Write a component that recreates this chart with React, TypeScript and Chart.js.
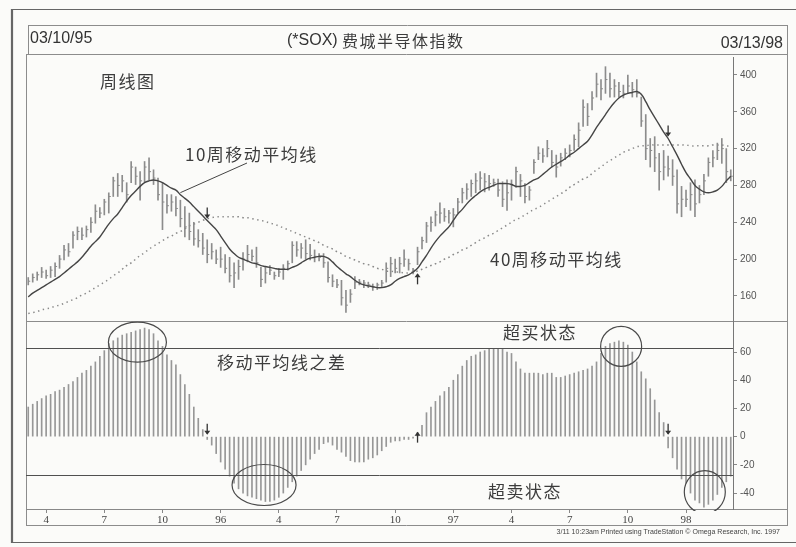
import React, { useEffect, useRef } from 'react';
import { Chart, registerables } from 'chart.js';

Chart.register(...registerables);

// ---------------- data (weekly, 03/10/95 .. 03/13/98) ----------------
const startDate = '03/10/95';
const endDate = '03/13/98';
const titleCode = '(*SOX) ';
const titleName = '费城半导体指数';

const high = [
  180, 184, 186, 191, 188, 192, 196, 204, 215, 217,
  230, 235, 234, 236, 245, 259, 256, 265, 272, 289,
  293, 291, 283, 306, 300, 295, 306, 310, 297, 288,
  283, 270, 270, 268, 264, 257, 250, 240, 232, 228,
  221, 217, 210, 213, 205, 202, 196, 199, 207, 215,
  210, 213, 191, 191, 193, 186, 190, 194, 198, 219,
  219, 217, 221, 216, 210, 206, 206, 197, 183, 178,
  177, 166, 167, 181, 178, 177, 175, 173, 174, 177,
  196, 202, 200, 202, 210, 200, 190, 213, 224, 240,
  246, 252, 261, 255, 253, 255, 266, 277, 282, 286,
  293, 295, 293, 291, 287, 287, 284, 286, 286, 300,
  292, 282, 279, 308, 322, 320, 329, 318, 313, 315,
  320, 324, 335, 348, 373, 369, 382, 402, 395, 409,
  402, 395, 392, 389, 400, 392, 395, 376, 357, 331,
  333, 315, 318, 312, 308, 297, 279, 275, 283, 286,
  280, 292, 310, 318, 326, 331, 320, 297,
];

const low = [
  172, 175, 177, 180, 179, 180, 181, 190, 199, 203,
  212, 221, 221, 224, 229, 239, 245, 248, 250, 268,
  268, 273, 262, 283, 281, 264, 284, 286, 281, 264,
  232, 250, 252, 247, 235, 224, 221, 215, 213, 205,
  196, 200, 195, 191, 185, 175, 169, 178, 188, 197,
  198, 191, 170, 174, 183, 178, 181, 178, 188, 196,
  203, 201, 200, 199, 197, 198, 191, 175, 170, 169,
  150, 142, 153, 168, 172, 169, 169, 166, 167, 170,
  175, 181, 185, 185, 192, 188, 184, 194, 211, 218,
  230, 236, 239, 241, 239, 235, 250, 261, 265, 268,
  272, 275, 273, 275, 279, 268, 257, 253, 264, 278,
  268, 261, 264, 293, 308, 305, 311, 300, 289, 301,
  308, 311, 318, 322, 344, 345, 362, 376, 373, 380,
  376, 376, 376, 375, 380, 376, 376, 344, 308, 300,
  295, 275, 286, 290, 280, 250, 246, 257, 253, 246,
  261, 270, 290, 300, 308, 304, 283, 285,
];

const close = [
  176, 180, 183, 186, 182, 188, 192, 200, 210, 208,
  226, 230, 226, 232, 240, 252, 250, 262, 268, 285,
  280, 285, 270, 300, 290, 285, 300, 295, 288, 270,
  262, 258, 262, 255, 244, 235, 230, 222, 220, 212,
  205, 208, 200, 200, 190, 182, 185, 192, 200, 205,
  203, 196, 178, 185, 188, 182, 186, 190, 195, 215,
  210, 212, 206, 204, 203, 202, 196, 180, 176, 172,
  158, 150, 162, 175, 175, 174, 172, 170, 172, 174,
  190, 195, 190, 195, 200, 195, 188, 208, 220, 236,
  240, 248, 250, 246, 250, 248, 262, 272, 276, 282,
  285, 288, 284, 282, 283, 275, 265, 272, 280, 295,
  285, 268, 275, 305, 315, 312, 320, 305, 300, 310,
  315, 318, 330, 340, 365, 355, 375, 390, 385, 395,
  385, 388, 382, 380, 388, 384, 380, 350, 320, 318,
  310, 295, 300, 298, 290, 260, 265, 265, 270, 260,
  270, 285, 305, 310, 318, 320, 295, 290,
];

const ma10 = [
  159, 163, 166, 169, 172, 175, 178, 181, 185, 189,
  193, 197, 202, 208, 214, 219, 224, 231, 238, 244,
  249, 256, 263, 269, 274, 279, 283, 285, 286, 285,
  283, 280, 277, 275, 270, 266, 262, 257, 252, 247,
  242, 237, 232, 225, 218, 211, 206, 202, 200, 198,
  196, 195, 193, 192, 191, 190, 189, 189, 189, 191,
  193, 196, 199, 201, 202, 203, 203, 201, 197, 192,
  188, 184, 181, 177, 174, 172, 171, 170, 169, 169,
  170, 172, 176, 179, 181, 183, 186, 190, 197, 204,
  212, 219, 225, 230, 235, 242, 249, 254, 260, 265,
  269, 273, 276, 278, 280, 282, 282, 282, 281, 279,
  279, 280, 283, 286, 288, 292, 296, 300, 303, 306,
  309, 313, 316, 320, 324, 328, 335, 343, 350, 357,
  364, 370, 375, 378, 380, 381, 382, 379, 371, 362,
  354, 346, 338, 331, 322, 313, 303, 294, 287, 280,
  276, 273, 272, 273, 275, 279, 285, 290,
];

const ma40 = [
  141, 142, 143, 145, 146, 147, 149, 150, 152, 154,
  156, 158, 161, 163, 166, 169, 172, 175, 178, 182,
  185, 189, 193, 196, 200, 204, 207, 211, 214, 217,
  220, 223, 225, 228, 230, 233, 236, 238, 240, 242,
  244, 245, 246, 246, 246, 246, 246, 246, 245, 245,
  244, 243, 242, 241, 239, 238, 236, 234, 232, 230,
  228, 226, 224, 222, 220, 218, 215, 213, 211, 208,
  206, 203, 201, 199, 197, 195, 194, 192, 190, 189,
  187, 187, 186, 186, 185, 185, 186, 187, 189, 191,
  193, 195, 197, 200, 202, 205, 207, 210, 212, 215,
  218, 221, 223, 226, 228, 231, 234, 237, 240, 243,
  245, 248, 251, 254, 256, 259, 262, 265, 268, 271,
  274, 278, 281, 284, 287, 289, 293, 297, 300, 304,
  307, 310, 313, 316, 318, 320, 322, 323, 323, 324,
  324, 324, 324, 324, 324, 324, 324, 324, 323, 323,
  323, 323, 323, 324, 324, 324, 323, 323,
];

const maDiff = [
  21, 23, 25, 27, 29, 30, 32, 33, 35, 37,
  39, 42, 45, 47, 50, 53, 57, 61, 66, 68,
  70, 72, 73, 74, 75, 76, 77, 76, 73, 68,
  64, 58, 54, 51, 44, 37, 30, 21, 13, 5,
  -2, -6, -12, -18, -23, -28, -33, -37, -40, -42,
  -43, -44, -45, -46, -46, -45, -43, -40, -36, -32,
  -28, -24, -20, -16, -12, -9, -5, -4, -6, -9,
  -11, -14, -17, -18, -18, -18, -16, -15, -13, -10,
  -7, -4, -3, -3, -2, -2, -1, 3, 8, 17,
  21, 25, 29, 32, 35, 40, 44, 50, 54, 57,
  58, 60, 61, 62, 62, 62, 62, 60, 59, 53,
  48, 45, 45, 45, 45, 44, 45, 45, 42, 42,
  43, 44, 45, 46, 47, 48, 50, 53, 59, 64,
  66, 67, 68, 67, 65, 60, 53, 46, 41, 34,
  26, 17, 10, -8, -15, -23, -30, -33, -40, -45,
  -47, -50, -48, -45, -41, -36, -32, -28,
];

const tickWeeks = [4, 17, 30, 43, 56, 69, 82, 95, 108, 121, 134, 147];
const tickText = ['4', '7', '10', '96', '4', '7', '10', '97', '4', '7', '10', '98'];
const priceTicks = [160, 200, 240, 280, 320, 360, 400];
const diffTicks = [-40, -20, 0, 20, 40, 60];
const overboughtLevel = 63;
const oversoldLevel = -27;
const signalWeeks = [40, 87, 143];
const signalDirs = ['down', 'up', 'down'];

// ---------------- drawing helpers ----------------
const CJK = '"Noto Sans CJK SC", "Noto Sans", sans-serif';
const SANS = '"Liberation Sans", Arial, sans-serif';
const SERIF = '"Liberation Serif", "Times New Roman", serif';

function drawArrow(ctx: CanvasRenderingContext2D, x: number, y: number, dir: string) {
  ctx.save();
  ctx.strokeStyle = '#333';
  ctx.fillStyle = '#333';
  ctx.lineWidth = 1.3;
  const len = 5;
  ctx.beginPath();
  ctx.moveTo(x, y - len);
  ctx.lineTo(x, y + len);
  ctx.stroke();
  ctx.beginPath();
  if (dir === 'up') {
    ctx.moveTo(x, y - len - 1);
    ctx.lineTo(x - 3, y - len + 3);
    ctx.lineTo(x + 3, y - len + 3);
  } else {
    ctx.moveTo(x, y + len + 1);
    ctx.lineTo(x - 3, y + len - 3);
    ctx.lineTo(x + 3, y + len - 3);
  }
  ctx.closePath();
  ctx.fill();
  ctx.restore();
}

function hLine(ctx: CanvasRenderingContext2D, x1: number, x2: number, y: number) {
  ctx.beginPath();
  ctx.moveTo(x1, y);
  ctx.lineTo(x2, y);
  ctx.stroke();
}
function vLine(ctx: CanvasRenderingContext2D, x: number, y1: number, y2: number) {
  ctx.beginPath();
  ctx.moveTo(x, y1);
  ctx.lineTo(x, y2);
  ctx.stroke();
}

function cjkText(ctx: CanvasRenderingContext2D, text: string, x: number, y: number, size = 17, spacing = '1.5px') {
  ctx.save();
  ctx.font = `${size}px ${CJK}`;
  (ctx as any).letterSpacing = spacing;
  ctx.fillStyle = '#3c3c3c';
  ctx.textAlign = 'left';
  ctx.textBaseline = 'middle';
  ctx.fillText(text, x, y);
  ctx.restore();
}

const decoPlugin = {
  id: 'deco',
  beforeDraw(chart: any) {
    const ctx: CanvasRenderingContext2D = chart.ctx;
    ctx.save();
    ctx.fillStyle = '#fbfbf9';
    ctx.fillRect(0, 0, chart.width, chart.height);

    // outer page frame
    ctx.strokeStyle = '#666';
    ctx.lineWidth = 1.2;
    hLine(ctx, 11, 796, 9.5);
    hLine(ctx, 11, 796, 542.5);
    ctx.lineWidth = 2.2;
    vLine(ctx, 12, 9, 543);

    // inner frames
    ctx.strokeStyle = '#8c8c8c';
    ctx.lineWidth = 1;
    hLine(ctx, 28, 787, 25.5);
    hLine(ctx, 26, 787, 54.5);
    vLine(ctx, 28.5, 25, 55);
    vLine(ctx, 787.5, 25, 526);
    vLine(ctx, 26.5, 55, 526);
    hLine(ctx, 26, 787, 525.5);
    const yP = chart.scales.yP;
    hLine(ctx, 26, 787, Math.round(yP.bottom) + 0.5);
    const xs = chart.scales.x;
    hLine(ctx, 26, 787, Math.round(xs.top) + 0.5);
    ctx.restore();
  },
  afterDatasetsDraw(chart: any) {
    const ctx: CanvasRenderingContext2D = chart.ctx;
    const xs = chart.scales.x;
    const yP = chart.scales.yP;
    const yD = chart.scales.yD;
    const ca = chart.chartArea;
    ctx.save();

    // overbought / oversold lines
    ctx.strokeStyle = '#505050';
    ctx.lineWidth = 1;
    hLine(ctx, ca.left, ca.right, Math.round(yD.getPixelForValue(overboughtLevel)) + 0.5);
    hLine(ctx, ca.left, ca.right, Math.round(yD.getPixelForValue(oversoldLevel)) + 0.5);

    // circled extremes in the lower panel
    const ellipses = [
      { w: 24.4, v: 67, rx: 29, ry: 20 },
      { w: 52.7, v: -34.3, rx: 32, ry: 20.5 },
      { w: 132.5, v: 64, rx: 20.5, ry: 20 },
      { w: 151.2, v: -39.3, rx: 20.5, ry: 21.5 },
    ];
    ctx.save();
    ctx.beginPath();
    ctx.rect(ca.left, yD.top, ca.right - ca.left, yD.bottom - yD.top + 2);
    ctx.clip();
    ctx.strokeStyle = '#4a4a4a';
    ctx.lineWidth = 1.2;
    for (const e of ellipses) {
      ctx.beginPath();
      ctx.ellipse(xs.getPixelForValue(e.w), yD.getPixelForValue(e.v), e.rx, e.ry, 0, 0, Math.PI * 2);
      ctx.stroke();
    }
    ctx.restore();

    // crossover signals
    signalWeeks.forEach((w, i) => {
      const dir = signalDirs[i];
      const x = xs.getPixelForValue(w);
      const yLine = yP.getPixelForValue(ma10[w]);
      drawArrow(ctx, x, dir === 'down' ? yLine - 8 : yLine + 11, dir);
      const y0 = yD.getPixelForValue(0);
      drawArrow(ctx, x, dir === 'down' ? y0 - 8 : y0 + 1, dir);
    });

    // pointer to the 10-week MA
    ctx.strokeStyle = '#444';
    ctx.lineWidth = 1;
    ctx.beginPath();
    ctx.moveTo(247, 163);
    ctx.lineTo(xs.getPixelForValue(34), yP.getPixelForValue(ma10[34]) - 2);
    ctx.stroke();

    ctx.restore();
  },
  afterDraw(chart: any) {
    const ctx: CanvasRenderingContext2D = chart.ctx;
    ctx.save();
    // header
    ctx.fillStyle = '#333';
    ctx.textBaseline = 'middle';
    ctx.font = `16px ${SANS}`;
    ctx.textAlign = 'left';
    ctx.fillText(startDate, 30, 39);
    ctx.textAlign = 'right';
    ctx.fillText(endDate, 783, 44);
    ctx.textAlign = 'left';
    ctx.fillText(titleCode, 287, 41);
    const wCode = ctx.measureText(titleCode).width;
    cjkText(ctx, titleName, 287 + wCode, 41, 16, '1.5px');

    // annotations
    cjkText(ctx, '周线图', 100, 82);
    cjkText(ctx, '10周移动平均线', 185, 155);
    cjkText(ctx, '40周移动平均线', 490, 260);
    cjkText(ctx, '移动平均线之差', 217, 363);
    cjkText(ctx, '超买状态', 503, 333);
    cjkText(ctx, '超卖状态', 488, 492);

    // footer
    ctx.font = `7px ${SANS}`;
    ctx.fillStyle = '#444';
    ctx.textAlign = 'right';
    ctx.textBaseline = 'middle';
    ctx.fillText('3/11 10:23am Printed using TradeStation \u00A9 Omega Research, Inc. 1997', 780, 532);
    ctx.restore();
  },
};

export default function App() {
  const ref = useRef<HTMLCanvasElement>(null);

  useEffect(() => {
    const canvas = ref.current;
    if (!canvas) return;
    const labels = close.map((_, i) => i);
    const hl = high.map((h, i) => [low[i], h]);

    const chart = new Chart(canvas, {
      type: 'bar',
      data: {
        labels,
        datasets: [
          {
            type: 'line',
            data: ma10,
            yAxisID: 'yP',
            borderColor: '#454545',
            borderWidth: 1.4,
            pointRadius: 0,
            tension: 0.4,
            order: 0,
          } as any,
          {
            type: 'line',
            data: ma40,
            yAxisID: 'yP',
            borderColor: '#8a8a8a',
            borderWidth: 1.5,
            borderDash: [1.5, 3.5],
            pointRadius: 0,
            tension: 0.4,
            order: 0,
          } as any,
          {
            type: 'line',
            data: close,
            yAxisID: 'yP',
            showLine: false,
            pointStyle: 'dash',
            pointRadius: 2,
            pointBorderWidth: 1,
            pointBorderColor: '#8a8a8a',
            pointBackgroundColor: '#8a8a8a',
            order: 1,
          } as any,
          {
            type: 'bar',
            data: hl,
            yAxisID: 'yP',
            backgroundColor: '#8c8c8c',
            barThickness: 1,
            grouped: false,
            order: 2,
          } as any,
          {
            type: 'bar',
            data: maDiff,
            yAxisID: 'yD',
            backgroundColor: '#979797',
            barThickness: 1,
            grouped: false,
            order: 2,
          } as any,
        ],
      },
      options: {
        responsive: false,
        animation: false,
        devicePixelRatio: 1,
        events: [],
        layout: { padding: { left: 26, top: 57, right: 9, bottom: 20 } },
        plugins: { legend: { display: false }, tooltip: { enabled: false } },
        scales: {
          x: {
            type: 'category',
            offset: true,
            grid: { display: true, drawOnChartArea: false, drawTicks: true, tickLength: 4, offset: false, color: '#888' },
            border: { display: true, color: '#888' },
            ticks: {
              autoSkip: false,
              maxRotation: 0,
              padding: 1,
              color: '#444',
              font: { family: SERIF, size: 11 },
              callback: (value: any) => {
                const k = tickWeeks.indexOf(Number(value));
                return k >= 0 ? tickText[k] : '';
              },
            },
            afterBuildTicks: (s: any) => {
              s.ticks = s.ticks.filter((t: any) => tickWeeks.includes(t.value));
            },
            afterFit: (s: any) => {
              s.height = 18;
            },
          },
          yP: {
            type: 'linear',
            position: 'right',
            stack: 'panels',
            stackWeight: 264,
            min: 132.8,
            max: 419.5,
            grid: { drawOnChartArea: false, drawTicks: true, tickLength: 4, color: '#888' },
            border: { display: true, color: '#777' },
            ticks: { color: '#555', padding: 3, font: { family: SANS, size: 10 } },
            afterBuildTicks: (s: any) => {
              s.ticks = priceTicks.map((v) => ({ value: v }));
            },
            afterFit: (s: any) => {
              s.width = 54;
            },
          },
          yD: {
            type: 'linear',
            position: 'right',
            stack: 'panels',
            stackWeight: 188,
            min: -51.3,
            max: 82,
            grid: { drawOnChartArea: false, drawTicks: true, tickLength: 4, color: '#888' },
            border: { display: true, color: '#777' },
            ticks: { color: '#555', padding: 3, font: { family: SANS, size: 10 } },
            afterBuildTicks: (s: any) => {
              s.ticks = diffTicks.map((v) => ({ value: v }));
            },
            afterFit: (s: any) => {
              s.width = 54;
            },
          },
        },
      } as any,
      plugins: [decoPlugin],
    });

    return () => chart.destroy();
  }, []);

  return (
    <div style={{ position: 'absolute', left: 0, top: 0, width: 796, height: 547 }}>
      <canvas ref={ref} width={796} height={547} style={{ width: 796, height: 547, display: 'block' }} />
    </div>
  );
}
